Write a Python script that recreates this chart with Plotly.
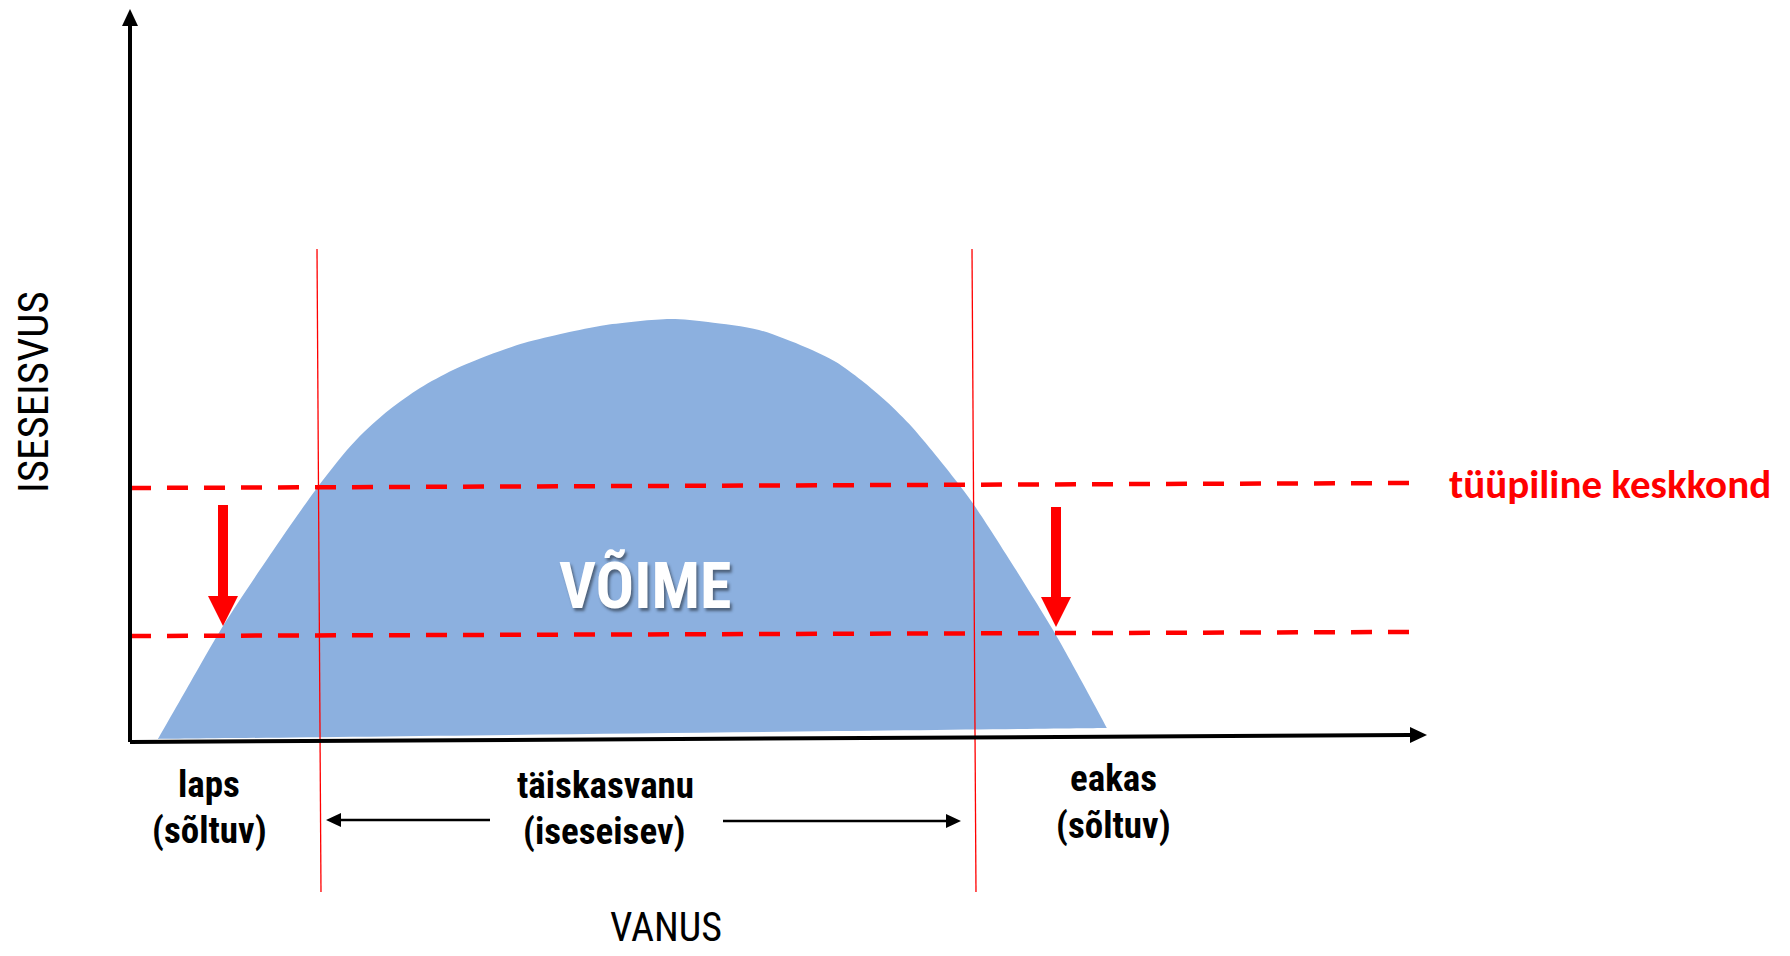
import plotly.graph_objects as go

# ---- values (coordinate units = reference pixels) ----
curve_x = [158, 190, 223, 270, 317, 347, 364, 389, 420, 453, 489, 524, 565, 606, 670,
           708, 759, 805, 836, 861, 887, 912, 938, 950, 974, 1053, 1107]
curve_y = [739, 683, 626, 555, 488, 450, 432, 410, 388, 370, 355, 343, 333, 325, 319,
           322, 330, 347, 362, 380, 402, 427, 458, 473, 505, 630, 728]
base_x = [1107, 158]
base_y = [728, 739]

env_x = [130, 1411]
env_typical_y = [488, 483]
env_reduced_y = [636, 632]

stage_left_x = [317, 321]
stage_right_x = [972, 976]
stage_y = [249, 892]

xaxis_x = [130, 1410]
xaxis_y = [742, 735]
yaxis_x = [130, 130]
yaxis_y = [742, 25]

drop_left = dict(x=223, y0=505, y1=596, tip=626)
drop_right = dict(x=1056, y0=507, y1=597, tip=627)

span_left = dict(x0=490, x1=341, tip=326, y=820)
span_right = dict(x0=723, x1=946, tip=961, y=821)

labels = [
    ("laps", 209, 784),
    ("(sõltuv)", 209, 830),
    ("täiskasvanu", 605, 785),
    ("(iseseisev)", 604, 831),
    ("eakas", 1113, 778),
    ("(sõltuv)", 1113, 825),
]

RED = "#FF0000"
BLUE = "#8CB0DF"
COND = "Roboto Condensed, DejaVu Sans Condensed, Liberation Sans Narrow, Roboto, sans-serif"

fig = go.Figure()

# filled ability curve
fig.add_trace(go.Scatter(x=curve_x + base_x + [curve_x[0]], y=curve_y + base_y + [curve_y[0]],
                         fill="toself", fillcolor=BLUE, mode="lines",
                         line=dict(width=0, shape="spline", smoothing=0.8, color=BLUE),
                         hoverinfo="skip"))

# stage separators
for sx in (stage_left_x, stage_right_x):
    fig.add_trace(go.Scatter(x=sx, y=stage_y, mode="lines", line=dict(color=RED, width=1.3),
                             hoverinfo="skip"))

# environment levels (dashed)
for ey in (env_typical_y, env_reduced_y):
    fig.add_trace(go.Scatter(x=env_x, y=ey, mode="lines",
                             line=dict(color=RED, width=4.5, dash="21px,16px"),
                             hoverinfo="skip"))

# axes
fig.add_trace(go.Scatter(x=xaxis_x, y=xaxis_y, mode="lines", line=dict(color="black", width=4),
                         hoverinfo="skip"))
fig.add_trace(go.Scatter(x=yaxis_x, y=yaxis_y, mode="lines", line=dict(color="black", width=4),
                         hoverinfo="skip"))
# axis arrow heads
fig.add_trace(go.Scatter(x=[1410, 1427, 1410, 1410], y=[727, 735, 743, 727], fill="toself",
                         fillcolor="black", mode="lines", line=dict(width=0, color="black"),
                         hoverinfo="skip"))
fig.add_trace(go.Scatter(x=[122, 130, 138, 122], y=[26, 9, 26, 26], fill="toself",
                         fillcolor="black", mode="lines", line=dict(width=0, color="black"),
                         hoverinfo="skip"))

# red drop arrows
for d in (drop_left, drop_right):
    fig.add_trace(go.Scatter(x=[d["x"], d["x"]], y=[d["y0"], d["y1"]], mode="lines",
                             line=dict(color=RED, width=10), hoverinfo="skip"))
    fig.add_trace(go.Scatter(x=[d["x"] - 15, d["x"] + 15, d["x"], d["x"] - 15],
                             y=[d["y1"], d["y1"], d["tip"], d["y1"]], fill="toself",
                             fillcolor=RED, mode="lines", line=dict(width=0, color=RED),
                             hoverinfo="skip"))

# black span arrows
for s in (span_left, span_right):
    fig.add_trace(go.Scatter(x=[s["x0"], s["x1"]], y=[s["y"], s["y"]], mode="lines",
                             line=dict(color="black", width=2.5), hoverinfo="skip"))
    fig.add_trace(go.Scatter(x=[s["x1"], s["tip"], s["x1"], s["x1"]],
                             y=[s["y"] - 7, s["y"], s["y"] + 7, s["y"] - 7], fill="toself",
                             fillcolor="black", mode="lines", line=dict(width=0, color="black"),
                             hoverinfo="skip"))

annotations = []
for text, x, y in labels:
    annotations.append(dict(x=x, y=y, text=text, showarrow=False, xanchor="center", yanchor="middle",
                            font=dict(family=COND, size=37, color="black", weight="bold")))
annotations.append(dict(x=645, y=586, text="VÕIME", showarrow=False, xanchor="center", yanchor="middle",
                        font=dict(family=COND, size=64, color="white", weight="bold",
                                  shadow="2px 3px 3px rgba(0,0,0,0.45)")))
annotations.append(dict(x=1447, y=484, text="tüüpiline keskkond", showarrow=False, xanchor="left",
                        yanchor="middle",
                        font=dict(family="Carlito, Noto Sans, sans-serif", size=41, color=RED,
                                  weight="bold")))
annotations.append(dict(x=666, y=927, text="VANUS", showarrow=False, xanchor="center", yanchor="middle",
                        font=dict(family=COND, size=40, color="black")))
annotations.append(dict(x=33, y=392, text="ISESEISVUS", showarrow=False, xanchor="center", yanchor="middle",
                        textangle=-90, font=dict(family=COND, size=43, color="black")))

fig.update_layout(
    width=1790, height=956, margin=dict(l=0, r=0, t=0, b=0),
    paper_bgcolor="white", plot_bgcolor="white", showlegend=False,
    xaxis=dict(range=[0, 1790], visible=False, fixedrange=True),
    yaxis=dict(range=[956, 0], visible=False, fixedrange=True),
    annotations=annotations,
)

fig.write_html("out.html", config={"displayModeBar": False},
               post_script="document.body.style.margin='0';document.body.style.overflow='hidden';")
